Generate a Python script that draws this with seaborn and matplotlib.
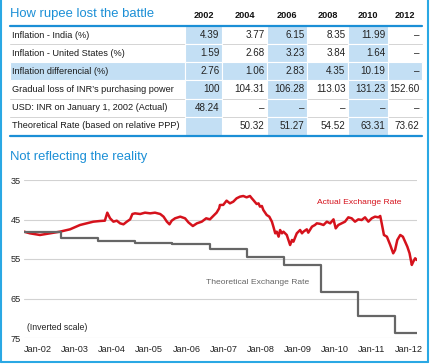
import pandas as pd
import seaborn as sns
import matplotlib.pyplot as plt
import matplotlib.dates as mdates
from matplotlib.patches import Rectangle

# ---- table data ----
years = ["2002", "2004", "2006", "2008", "2010", "2012"]
row_labels = [
    "Inflation - India (%)",
    "Inflation - United States (%)",
    "Inflation differencial (%)",
    "Gradual loss of INR\u2019s purchasing power",
    "USD: INR on January 1, 2002 (Actual)",
    "Theoretical Rate (based on relative PPP)",
]
inflation_india = [4.39, 3.77, 6.15, 8.35, 11.99, None]
inflation_us = [1.59, 2.68, 3.23, 3.84, 1.64, None]
inflation_diff = [2.76, 1.06, 2.83, 4.35, 10.19, None]
purchasing_power = [100, 104.31, 106.28, 113.03, 131.23, 152.60]
usd_inr_actual = [48.24, None, None, None, None, None]
theoretical_ppp = ["", 50.32, 51.27, 54.52, 63.31, 73.62]

# ---- chart data (time in decimal years) ----
actual_time = [
    2002.00, 2002.16, 2002.43, 2002.70, 2002.97, 2003.24, 2003.51, 2003.69, 2003.87,
    2004.05, 2004.18, 2004.245, 2004.32, 2004.41, 2004.50, 2004.59, 2004.68, 2004.77,
    2004.86, 2004.92, 2004.99, 2005.13, 2005.26, 2005.40, 2005.53, 2005.67, 2005.76,
    2005.85, 2005.92, 2005.98, 2006.07, 2006.21, 2006.34, 2006.43, 2006.55, 2006.66,
    2006.79, 2006.91, 2007.01, 2007.10, 2007.19, 2007.26, 2007.28, 2007.37, 2007.46,
    2007.55, 2007.64, 2007.73, 2007.82, 2007.91, 2008.00, 2008.09, 2008.14, 2008.18,
    2008.27, 2008.32, 2008.36, 2008.41, 2008.45, 2008.54, 2008.61, 2008.68, 2008.72,
    2008.77, 2008.81, 2008.86, 2008.90, 2008.95, 2008.99, 2009.08, 2009.17, 2009.22,
    2009.26, 2009.35, 2009.44, 2009.49, 2009.53, 2009.62, 2009.66, 2009.76, 2009.84,
    2009.89, 2009.98, 2010.07, 2010.16, 2010.25, 2010.34, 2010.40, 2010.47, 2010.56,
    2010.65, 2010.74, 2010.83, 2010.92, 2011.01, 2011.10, 2011.19, 2011.28, 2011.37,
    2011.46, 2011.55, 2011.60, 2011.64, 2011.70, 2011.78, 2011.87, 2011.95, 2012.00,
    2012.06, 2012.14, 2012.21, 2012.27, 2012.33, 2012.39, 2012.45, 2012.49, 2012.54,
    2012.585,
]
actual_rate = [
    48.08, 48.50, 48.92, 48.50, 48.08, 47.49, 46.39, 45.97, 45.55,
    45.38, 45.30, 43.27, 44.70, 45.55, 45.30, 45.97, 46.22, 45.55,
    44.96, 43.61, 43.44, 43.61, 43.27, 43.44, 43.27, 43.61, 44.28,
    45.55, 46.22, 45.30, 44.70, 44.28, 44.70, 45.72, 46.65, 45.97,
    45.55, 44.70, 44.96, 44.11, 43.27, 42.17, 41.33, 41.30, 40.23,
    40.91, 40.49, 39.64, 39.22, 39.05, 39.39, 39.05, 39.64, 40.07,
    41.08, 40.91, 41.75, 41.58, 42.60, 43.86, 44.28, 45.55, 46.81,
    48.50, 48.08, 49.35, 47.66, 48.50, 48.08, 48.92, 51.46, 50.19,
    50.61, 48.50, 47.66, 48.50, 48.08, 47.49, 48.33, 46.81, 46.39,
    45.97, 46.10, 46.39, 45.55, 45.97, 44.96, 47.24, 46.39, 45.97,
    45.55, 44.45, 44.70, 45.55, 44.96, 45.13, 44.45, 45.55, 44.70,
    44.28, 44.45, 44.11, 45.97, 48.92, 49.35, 51.46, 53.56, 52.72,
    50.19, 48.92, 49.35, 50.61, 51.88, 53.56, 56.51, 55.67, 54.82,
    55.25,
]
theo_time = [2002, 2003, 2004, 2005, 2006, 2007, 2008, 2009, 2010, 2011, 2012, 2012.585]
theo_rate = [48.24, 49.6, 50.32, 50.9, 51.27, 52.5, 54.52, 56.6, 63.31, 69.5, 73.62, 73.62]
tick_years = list(range(2002, 2013))

BLUE = "#1b8fd6"
FRAME = "#2aa8e4"
SHADE = "#c3dff4"
RED = "#d5121c"
GREY = "#666666"

sns.set_theme(style="white")
plt.rcParams["font.family"] = ["Liberation Sans", "DejaVu Sans"]


def to_date(t):
    # decimal year -> timestamp (whole years land exactly on Jan 1)
    year = int(t)
    start = pd.Timestamp(year=year, month=1, day=1)
    end = pd.Timestamp(year=year + 1, month=1, day=1)
    return start + (end - start) * (t - year)


def fmt(v):
    if v is None:
        return "\u2013"
    if v == "":
        return ""
    if isinstance(v, int):
        return str(v)
    return f"{v:.2f}"


fig = plt.figure(figsize=(4.3, 3.64), dpi=100)
bg = fig.add_axes([0, 0, 1, 1])
bg.set_xlim(0, 430)
bg.set_ylim(364, 0)
bg.axis("off")

# table geometry in pixels
col_edges = [185, 222, 267, 307, 348, 388, 422]
row_edges = [26, 44, 62, 80, 99, 117, 135]
rows = [inflation_india, inflation_us, inflation_diff,
        purchasing_power, usd_inr_actual, theoretical_ppp]

for y in row_edges[1:-1]:
    bg.plot([10, 422], [y, y], color="#d4d4d4", lw=0.7, zorder=1)

for r in range(len(rows)):
    y0, y1 = row_edges[r], row_edges[r + 1]
    if r == 2:
        bg.add_patch(Rectangle((10, y0), col_edges[0] - 10, y1 - y0,
                               facecolor=SHADE, edgecolor="white", lw=0.8, zorder=2))
    for c in range(len(years)):
        if r == 2 or c in (0, 2, 4):
            bg.add_patch(Rectangle((col_edges[c], y0), col_edges[c + 1] - col_edges[c], y1 - y0,
                                   facecolor=SHADE, edgecolor="white", lw=0.8, zorder=2))

bg.plot([10, 422], [26, 26], color=BLUE, lw=1.6, zorder=3)
bg.plot([10, 422], [136, 136], color=BLUE, lw=1.6, zorder=3)

bg.text(10, 14, "How rupee lost the battle", color=BLUE, fontsize=9.4, va="center")
for c, yr in enumerate(years):
    bg.text((col_edges[c] + col_edges[c + 1]) / 2, 15.5, yr, ha="center", va="center",
            fontsize=6.6, fontweight="bold", color="#111111")

for r, (label, vals) in enumerate(zip(row_labels, rows)):
    yc = (row_edges[r] + row_edges[r + 1]) / 2
    bg.text(12, yc, label, va="center", fontsize=6.6, color="#1a1a1a", zorder=4)
    for c, v in enumerate(vals):
        bg.text(col_edges[c + 1] - 2.5, yc, fmt(v), ha="right", va="center",
                fontsize=7.1, color="#222222", zorder=4)

bg.text(10, 157, "Not reflecting the reality", color=BLUE, fontsize=9.4, va="center")

# frame
bg.plot([1, 1], [0, 362], color=FRAME, lw=1.5)
bg.plot([1, 428], [362, 362], color=FRAME, lw=1.5)
bg.plot([428, 428], [0, 362], color=FRAME, lw=1.5)

# ---- line chart ----
ax = fig.add_axes([24 / 430, (364 - 338) / 364, (417 - 24) / 430, (338 - 180) / 364])
ax.patch.set_alpha(0)

df_actual = pd.DataFrame({"date": [to_date(t) for t in actual_time], "rate": actual_rate})
df_theo = pd.DataFrame({"date": [to_date(t) for t in theo_time], "rate": theo_rate})

sns.lineplot(data=df_actual, x="date", y="rate", ax=ax, color=RED, lw=1.8)
sns.lineplot(data=df_theo, x="date", y="rate", ax=ax, color=GREY, lw=1.6,
             drawstyle="steps-post")

ax.set_xlim(to_date(2002.0), to_date(2012.59))
ax.set_ylim(75, 35)
ax.set_yticks([35, 45, 55, 65, 75])
ax.set_xticks([to_date(y) for y in tick_years])
ax.xaxis.set_major_formatter(mdates.DateFormatter("%b-%y"))
for lab in ax.get_xticklabels():
    lab.set_horizontalalignment("left")
ax.tick_params(axis="both", length=0, labelsize=6.6, labelcolor="#222222")
ax.tick_params(axis="x", pad=5)
ax.tick_params(axis="y", pad=2)
ax.grid(axis="y", color="#d2d2d2", lw=0.8)
ax.grid(axis="x", visible=False)
ax.set_xlabel("")
ax.set_ylabel("")
for s in ax.spines.values():
    s.set_visible(False)

bg.text(317, 202, "Actual Exchange Rate", color=RED, fontsize=6.1, va="center")
bg.text(206, 283, "Theoretical Exchange Rate", color=GREY, fontsize=6.1, va="center")
bg.text(27, 327, "(Inverted scale)", color="#222222", fontsize=6.3, va="center")

fig.savefig("out.png", dpi=100)
